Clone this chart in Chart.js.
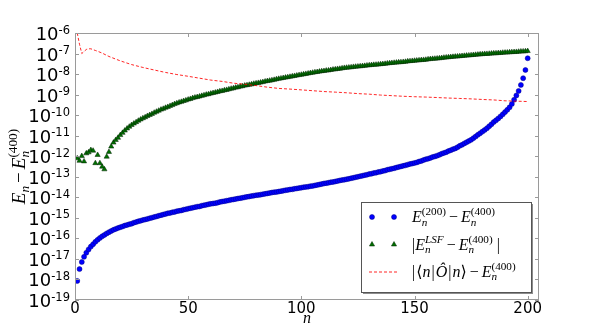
<!DOCTYPE html>
<html>
<head>
<meta charset="utf-8">
<script src="https://cdn.jsdelivr.net/npm/chart.js@4.4.1/dist/chart.umd.min.js"></script>
<style>
  html, body { margin: 0; padding: 0; background: #fff; }
  #wrap { width: 599px; height: 334px; }
</style>
</head>
<body>
<div id="wrap"><canvas id="c" width="599" height="334"></canvas></div>
<script>
// x: level index n = 1..200
const nLevels = Array.from({ length: 200 }, (_, i) => i + 1);

// E_n^(200) - E_n^(400)
const diff200 = [
  8.5e-19, 3.2e-18, 7.1e-18, 1.26e-17, 2.0e-17, 2.9e-17, 4.0e-17, 5.2e-17, 6.8e-17, 8.5e-17,
  1.05e-16, 1.26e-16, 1.48e-16, 1.74e-16, 2.0e-16, 2.3e-16, 2.6e-16, 2.9e-16, 3.2e-16, 3.5e-16,
  3.8e-16, 4.2e-16, 4.5e-16, 4.9e-16, 5.2e-16, 5.8e-16, 6.2e-16, 6.8e-16, 7.2e-16, 7.8e-16,
  8.3e-16, 8.9e-16, 9.5e-16, 1.02e-15, 1.10e-15, 1.17e-15, 1.26e-15, 1.35e-15, 1.45e-15, 1.55e-15,
  1.66e-15, 1.74e-15, 1.86e-15, 1.95e-15, 2.1e-15, 2.2e-15, 2.3e-15, 2.5e-15, 2.6e-15, 2.8e-15,
  2.95e-15, 3.1e-15, 3.3e-15, 3.5e-15, 3.6e-15, 3.9e-15, 4.1e-15, 4.3e-15, 4.6e-15, 4.8e-15,
  5.0e-15, 5.2e-15, 5.5e-15, 5.9e-15, 6.2e-15, 6.5e-15, 6.8e-15, 7.1e-15, 7.6e-15, 7.9e-15,
  8.3e-15, 8.7e-15, 9.1e-15, 9.5e-15, 1.0e-14, 1.05e-14, 1.10e-14, 1.15e-14, 1.20e-14, 1.26e-14,
  1.29e-14, 1.35e-14, 1.41e-14, 1.48e-14, 1.55e-14, 1.62e-14, 1.70e-14, 1.78e-14, 1.82e-14, 1.9e-14,
  2.0e-14, 2.1e-14, 2.2e-14, 2.3e-14, 2.4e-14, 2.45e-14, 2.6e-14, 2.7e-14, 2.8e-14, 2.95e-14,
  3.1e-14, 3.2e-14, 3.3e-14, 3.5e-14, 3.6e-14, 3.8e-14, 4.0e-14, 4.2e-14, 4.4e-14, 4.7e-14,
  4.9e-14, 5.1e-14, 5.4e-14, 5.6e-14, 5.9e-14, 6.2e-14, 6.6e-14, 6.9e-14, 7.2e-14, 7.6e-14,
  7.9e-14, 8.5e-14, 8.9e-14, 9.5e-14, 1.0e-13, 1.07e-13, 1.12e-13, 1.20e-13, 1.26e-13, 1.35e-13,
  1.41e-13, 1.51e-13, 1.58e-13, 1.70e-13, 1.78e-13, 1.9e-13, 2.0e-13, 2.2e-13, 2.3e-13, 2.45e-13,
  2.6e-13, 2.8e-13, 3.0e-13, 3.2e-13, 3.4e-13, 3.6e-13, 3.9e-13, 4.2e-13, 4.4e-13, 4.7e-13,
  5.0e-13, 5.5e-13, 5.9e-13, 6.5e-13, 7.1e-13, 7.6e-13, 8.3e-13, 9.1e-13, 9.8e-13, 1.07e-12,
  1.17e-12, 1.32e-12, 1.45e-12, 1.58e-12, 1.78e-12, 1.95e-12, 2.2e-12, 2.4e-12, 2.75e-12, 3.2e-12,
  3.6e-12, 4.2e-12, 4.8e-12, 5.5e-12, 6.3e-12, 7.6e-12, 9.1e-12, 1.10e-11, 1.32e-11, 1.58e-11,
  1.9e-11, 2.3e-11, 2.9e-11, 3.6e-11, 4.6e-11, 5.6e-11, 6.9e-11, 8.7e-11, 1.10e-10, 1.41e-10,
  1.82e-10, 2.4e-10, 3.5e-10, 5.6e-10, 9.1e-10, 1.51e-9, 2.95e-9, 6.3e-9, 1.58e-8, 5.9e-8
];

// |E_n^LSF - E_n^(400)|
const diffLSF = [
  7.9e-13, 6.0e-13, 1.02e-12, 5.6e-13, 1.38e-12, 1.55e-12, 2.0e-12, 1.86e-12, 4.6e-13, 1.15e-12,
  4.6e-13, 3.1e-13, 2.3e-13, 9.5e-13, 1.62e-12, 2.95e-12, 4.6e-12, 6.2e-12, 7.9e-12, 1.07e-11,
  1.38e-11, 1.78e-11, 2.24e-11, 2.75e-11, 3.31e-11, 3.89e-11, 4.57e-11, 5.37e-11, 6.17e-11, 7.08e-11,
  7.94e-11, 9.12e-11, 1.02e-10, 1.15e-10, 1.32e-10, 1.48e-10, 1.66e-10, 1.86e-10, 2.04e-10, 2.29e-10,
  2.51e-10, 2.82e-10, 3.09e-10, 3.47e-10, 3.80e-10, 4.17e-10, 4.47e-10, 4.90e-10, 5.25e-10, 5.75e-10,
  6.17e-10, 6.76e-10, 7.24e-10, 7.59e-10, 8.13e-10, 8.71e-10, 9.33e-10, 1.00e-9, 1.05e-9, 1.12e-9,
  1.20e-9, 1.26e-9, 1.35e-9, 1.45e-9, 1.51e-9, 1.62e-9, 1.70e-9, 1.82e-9, 1.95e-9, 2.04e-9,
  2.19e-9, 2.29e-9, 2.45e-9, 2.57e-9, 2.75e-9, 2.88e-9, 3.02e-9, 3.16e-9, 3.39e-9, 3.55e-9,
  3.72e-9, 3.89e-9, 4.07e-9, 4.37e-9, 4.57e-9, 4.79e-9, 5.01e-9, 5.25e-9, 5.62e-9, 5.89e-9,
  6.17e-9, 6.46e-9, 6.76e-9, 7.08e-9, 7.41e-9, 7.76e-9, 8.13e-9, 8.51e-9, 8.91e-9, 9.33e-9,
  9.77e-9, 1.02e-8, 1.07e-8, 1.12e-8, 1.17e-8, 1.23e-8, 1.26e-8, 1.32e-8, 1.38e-8, 1.41e-8,
  1.48e-8, 1.51e-8, 1.58e-8, 1.66e-8, 1.70e-8, 1.78e-8, 1.82e-8, 1.91e-8, 2.00e-8, 2.04e-8,
  2.09e-8, 2.14e-8, 2.24e-8, 2.29e-8, 2.34e-8, 2.40e-8, 2.45e-8, 2.51e-8, 2.63e-8, 2.69e-8,
  2.75e-8, 2.82e-8, 2.88e-8, 2.95e-8, 3.02e-8, 3.09e-8, 3.16e-8, 3.31e-8, 3.39e-8, 3.47e-8,
  3.55e-8, 3.63e-8, 3.72e-8, 3.80e-8, 3.89e-8, 3.98e-8, 4.17e-8, 4.27e-8, 4.37e-8, 4.47e-8,
  4.57e-8, 4.68e-8, 4.79e-8, 4.90e-8, 5.01e-8, 5.25e-8, 5.37e-8, 5.50e-8, 5.62e-8, 5.75e-8,
  5.89e-8, 6.03e-8, 6.31e-8, 6.46e-8, 6.61e-8, 6.76e-8, 6.92e-8, 7.08e-8, 7.24e-8, 7.41e-8,
  7.59e-8, 7.76e-8, 7.94e-8, 8.13e-8, 8.32e-8, 8.51e-8, 8.71e-8, 8.91e-8, 9.12e-8, 9.33e-8,
  9.55e-8, 9.6e-8, 9.77e-8, 1.00e-7, 1.02e-7, 1.03e-7, 1.05e-7, 1.07e-7, 1.10e-7, 1.11e-7,
  1.12e-7, 1.15e-7, 1.17e-7, 1.18e-7, 1.20e-7, 1.23e-7, 1.26e-7, 1.27e-7, 1.29e-7, 1.32e-7
];

// |<n|O|n> - E_n^(400)|  (dashed line)
const expectN = [1, 2, 3, 4, 5, 6, 7, 8, 9, 10, 12, 15, 20, 25, 30, 35, 40, 45, 50, 55, 60, 65, 70,
  75, 80, 85, 90, 95, 100, 105, 110, 115, 120, 125, 130, 135, 140, 145, 150, 155, 160, 165, 170,
  175, 180, 185, 190, 195, 200];
const diffExpect = [1.0e-6, 2.8e-7, 1.0e-7, 1.26e-7, 1.58e-7, 1.70e-7, 1.70e-7, 1.55e-7, 1.41e-7,
  1.29e-7, 1.05e-7, 7.2e-8, 4.4e-8, 2.9e-8, 2.1e-8, 1.58e-8, 1.20e-8, 9.5e-9, 7.8e-9, 6.3e-9,
  5.1e-9, 4.4e-9, 3.6e-9, 3.2e-9, 2.75e-9, 2.3e-9, 2.0e-9, 1.86e-9, 1.70e-9, 1.55e-9, 1.41e-9,
  1.32e-9, 1.23e-9, 1.12e-9, 1.05e-9, 9.5e-10, 8.9e-10, 8.3e-10, 7.9e-10, 7.6e-10, 7.2e-10,
  6.8e-10, 6.5e-10, 6.2e-10, 5.8e-10, 5.5e-10, 5.0e-10, 4.8e-10, 4.6e-10];

const xTicks = [0, 50, 100, 150, 200];
const yTicks = [1e-6, 1e-7, 1e-8, 1e-9, 1e-10, 1e-11, 1e-12, 1e-13, 1e-14, 1e-15, 1e-16, 1e-17, 1e-18, 1e-19];
const yTickExp = ['-6', '-7', '-8', '-9', '-10', '-11', '-12', '-13', '-14', '-15', '-16', '-17', '-18', '-19'];

const SERIF = '"Liberation Serif", "DejaVu Serif", serif';
const SANS = '"DejaVu Sans", sans-serif';
const spineColor = '#9a9a9a';

// tiny mathtext-ish renderer: items are {t, i} runs or {sup, sub} stacks
function seg(ctx, x, y, t, size, italic, dry) {
    ctx.font = (italic ? 'italic ' : '') + size + 'px ' + SERIF;
    const w = ctx.measureText(t).width;
    if (!dry) ctx.fillText(t, x, y);
    return w;
}
function mathRun(ctx, x, y, items, size, dry) {
    let cx = x;
    const s = size * 0.7;
    for (const it of items) {
        if (it.gap) { cx += it.gap; continue; }
        if (it.sup !== undefined || it.sub !== undefined) {
            let w = 0;
            if (it.sub) w = Math.max(w, seg(ctx, cx, y + size * 0.22, it.sub, s, it.subI, dry));
            if (it.sup) w = Math.max(w, seg(ctx, cx, y - size * 0.42, it.sup, s, it.supI, dry));
            cx += w;
        } else {
            cx += seg(ctx, cx, y, it.t, size, it.i, dry);
        }
    }
    return cx - x;
}

const E = { t: 'E', i: true };
const minus = [{ gap: 3 }, { t: '\u2212' }, { gap: 3 }];
const En400 = [E, { sup: '(400)', sub: 'n', subI: true }];

const legendRows = [
    { kind: 'dot', items: [E, { sup: '(200)', sub: 'n', subI: true }, ...minus, ...En400] },
    { kind: 'tri', items: [{ t: '|' }, E, { sup: 'LSF', supI: true, sub: 'n', subI: true }, ...minus, ...En400, { gap: 4 }, { t: '|' }] },
    { kind: 'dash', items: [{ t: '|' }, { gap: 1 }, { t: '\u27E8' }, { t: 'n', i: true }, { gap: 1 }, { t: '|' }, { gap: 1 }, { t: '\u00D4', i: true }, { gap: 1 }, { t: '|' }, { gap: 1 }, { t: 'n', i: true }, { t: '\u27E9' }, ...minus, ...En400] }
];

const decor = {
    id: 'decor',
    afterDraw(chart) {
        const { ctx, chartArea: a, scales } = chart;
        const xs = scales.x, ys = scales.y;
        ctx.save();
        ctx.fillStyle = '#000';
        ctx.textBaseline = 'alphabetic';

        // frame
        ctx.strokeStyle = spineColor;
        ctx.lineWidth = 1;
        ctx.strokeRect(a.left + 0.5, a.top + 0.5, a.right - a.left - 1, a.bottom - a.top - 1);

        // inward ticks
        ctx.beginPath();
        xTicks.forEach(v => {
            const px = Math.round(xs.getPixelForValue(v)) + 0.5;
            ctx.moveTo(px, a.bottom); ctx.lineTo(px, a.bottom - 4);
            ctx.moveTo(px, a.top); ctx.lineTo(px, a.top + 4);
        });
        yTicks.forEach(v => {
            const py = Math.round(ys.getPixelForValue(v)) + 0.5;
            ctx.moveTo(a.left, py); ctx.lineTo(a.left + 4, py);
            ctx.moveTo(a.right, py); ctx.lineTo(a.right - 4, py);
        });
        ctx.stroke();

        // x tick labels
        ctx.font = '15px ' + SANS;
        ctx.textAlign = 'center';
        xTicks.forEach(v => ctx.fillText(String(v), xs.getPixelForValue(v), 313));

        // y tick labels 10^k
        ctx.textAlign = 'left';
        yTicks.forEach((v, k) => {
            const py = ys.getPixelForValue(v);
            ctx.font = '18px ' + SANS;
            const w1 = ctx.measureText('10').width;
            ctx.font = '11.5px ' + SANS;
            const w2 = ctx.measureText(yTickExp[k]).width;
            const x0 = 70 - w1 - w2;
            ctx.font = '18px ' + SANS;
            ctx.fillText('10', x0, py + 7);
            ctx.font = '11.5px ' + SANS;
            ctx.fillText(yTickExp[k], x0 + w1, py + 0.5);
        });

        // axis labels
        ctx.font = 'italic 16px ' + SERIF;
        ctx.textAlign = 'center';
        ctx.fillText('n', (a.left + a.right) / 2, 323);
        ctx.textAlign = 'left';

        const yl = [E, { sub: 'n', subI: true }, ...minus, ...En400];
        ctx.save();
        ctx.translate(25, (a.top + a.bottom) / 2);
        ctx.rotate(-Math.PI / 2);
        const wl = mathRun(ctx, 0, 0, yl, 19, true);
        mathRun(ctx, -wl / 2, 0, yl, 19, false);
        ctx.restore();

        // legend
        const L = { x: 361, y: 202, w: 170, h: 90 };
        ctx.fillStyle = 'rgba(0,0,0,0.45)';
        ctx.fillRect(L.x + 2, L.y + 2, L.w, L.h);
        ctx.fillStyle = '#fff';
        ctx.fillRect(L.x, L.y, L.w, L.h);
        ctx.strokeStyle = '#555';
        ctx.strokeRect(L.x + 0.5, L.y + 0.5, L.w, L.h);
        const rowsY = [217, 244.5, 271.5];
        const mk = [372, 394];
        legendRows.forEach((r, k) => {
            const cy = rowsY[k];
            if (r.kind === 'dot') {
                mk.forEach(mx => {
                    ctx.beginPath(); ctx.arc(mx, cy, 2.5, 0, Math.PI * 2);
                    ctx.fillStyle = '#0000ff'; ctx.fill();
                    ctx.lineWidth = 0.5; ctx.strokeStyle = '#00008b'; ctx.stroke();
                });
            } else if (r.kind === 'tri') {
                mk.forEach(mx => {
                    ctx.beginPath();
                    ctx.moveTo(mx, cy - 3); ctx.lineTo(mx + 2.6, cy + 1.5); ctx.lineTo(mx - 2.6, cy + 1.5);
                    ctx.closePath();
                    ctx.fillStyle = '#007000'; ctx.fill();
                    ctx.lineWidth = 0.5; ctx.strokeStyle = '#002200'; ctx.stroke();
                });
            } else {
                ctx.beginPath();
                ctx.setLineDash([3, 2]);
                ctx.strokeStyle = 'rgba(255,0,0,0.85)'; ctx.lineWidth = 1;
                ctx.moveTo(mk[0] - 3, cy + 0.5); ctx.lineTo(mk[1] + 3, cy + 0.5);
                ctx.stroke();
                ctx.setLineDash([]);
            }
            ctx.fillStyle = '#000';
            mathRun(ctx, 412, cy + 5, r.items, 16, false);
        });
        ctx.restore();
    }
};

new Chart(document.getElementById('c'), {
    type: 'scatter',
    data: {
        datasets: [
            {
                label: 'E200',
                data: diff200.map((v, i) => ({ x: nLevels[i], y: v })),
                pointStyle: 'circle',
                pointRadius: 2.5,
                backgroundColor: '#0000ff',
                borderColor: '#00008b',
                borderWidth: 0.5,
                showLine: false,
                order: 3
            },
            {
                label: 'LSF',
                data: diffLSF.map((v, i) => ({ x: nLevels[i], y: v })),
                pointStyle: 'triangle',
                pointRadius: 3,
                backgroundColor: '#007000',
                borderColor: '#002200',
                borderWidth: 0.5,
                showLine: false,
                order: 2
            },
            {
                label: 'expect',
                data: diffExpect.map((v, i) => ({ x: expectN[i], y: v })),
                showLine: true,
                pointRadius: 0,
                borderColor: 'rgba(255,0,0,0.85)',
                borderWidth: 1,
                borderDash: [3, 2],
                tension: 0,
                fill: false,
                order: 1
            }
        ]
    },
    options: {
        responsive: false,
        animation: false,
        events: [],
        layout: { padding: { top: 33, right: 60, left: 0, bottom: 0 } },
        plugins: { legend: { display: false }, tooltip: { enabled: false } },
        scales: {
            x: {
                type: 'linear', min: 0, max: 205,
                grid: { display: false }, border: { display: false },
                ticks: { display: false },
                afterBuildTicks: s => { s.ticks = xTicks.map(v => ({ value: v })); },
                afterFit: s => { s.height = 34; }
            },
            y: {
                type: 'logarithmic', min: 1e-19, max: 1e-6,
                grid: { display: false }, border: { display: false },
                ticks: { display: false },
                afterBuildTicks: s => { s.ticks = yTicks.map(v => ({ value: v })); },
                afterFit: s => { s.width = 75; }
            }
        }
    },
    plugins: [decor]
});
</script>
</body>
</html>
